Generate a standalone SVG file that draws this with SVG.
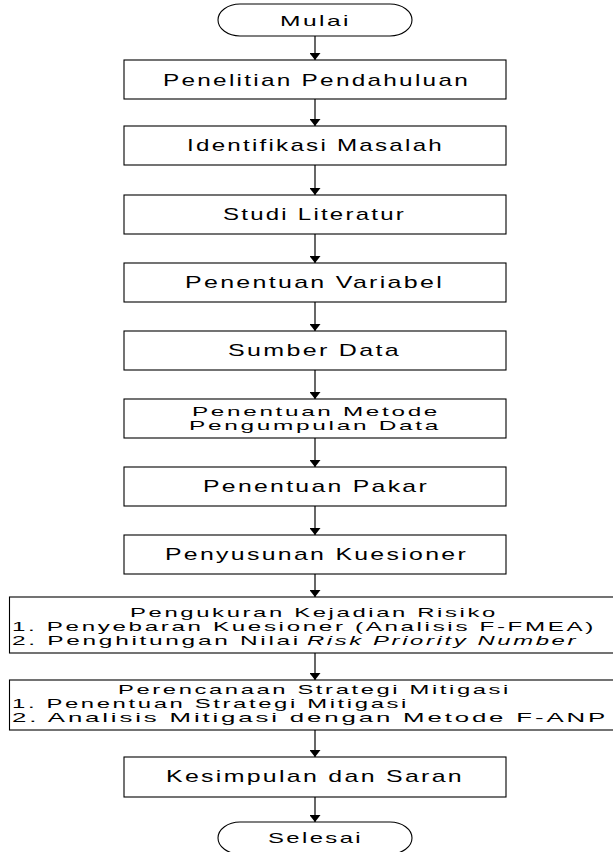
<svg xmlns="http://www.w3.org/2000/svg" width="613" height="852" viewBox="0 0 613 852">
<defs>
<style>
.box{fill:#fff;stroke:#000;stroke-width:1.1}
.t{font-family:"Liberation Sans",Arial,sans-serif;font-size:16.2px;fill:#000;letter-spacing:1.5px}
.s{font-size:13.6px}
.o{font-size:15px}
.c{text-anchor:middle}
.i{font-style:italic}
.conn line{stroke:#000;stroke-width:1.2;marker-end:url(#ah)}
</style>
<marker id="ah" markerUnits="userSpaceOnUse" markerWidth="7" markerHeight="11" refX="7" refY="5.5" orient="auto">
<path d="M0,0 L7,5.5 L0,11 z" fill="#000"/>
</marker>
</defs>
<rect width="613" height="852" fill="#fff"/>
<g id="connectors" class="conn">
<line x1="315" y1="36" x2="315" y2="60"/>
<line x1="315" y1="99" x2="315" y2="126"/>
<line x1="315" y1="165" x2="315" y2="195"/>
<line x1="315" y1="234" x2="315" y2="263"/>
<line x1="315" y1="302" x2="315" y2="331"/>
<line x1="315" y1="370" x2="315" y2="399"/>
<line x1="315" y1="438" x2="315" y2="467"/>
<line x1="315" y1="506" x2="315" y2="535"/>
<line x1="315" y1="574" x2="315" y2="597"/>
<line x1="315" y1="653" x2="315" y2="680"/>
<line x1="315" y1="730" x2="315" y2="757"/>
<line x1="315" y1="797" x2="315" y2="822"/>
</g>
<g id="mulai">
<rect class="box" x="218" y="4" width="194" height="32" rx="22" ry="16"/>
<text class="t o c" x="315.5" y="25.5" textLength="71" lengthAdjust="spacingAndGlyphs">Mulai</text>
</g>
<g id="penelitian">
<rect class="box" x="124" y="60" width="382" height="39"/>
<text class="t c" x="316.5" y="85.5" textLength="307" lengthAdjust="spacingAndGlyphs">Penelitian Pendahuluan</text>
</g>
<g id="identifikasi">
<rect class="box" x="124" y="126" width="382" height="39"/>
<text class="t c" x="315.5" y="151" textLength="257" lengthAdjust="spacingAndGlyphs">Identifikasi Masalah</text>
</g>
<g id="studi">
<rect class="box" x="124" y="195" width="382" height="39"/>
<text class="t c" x="314.5" y="220" textLength="183" lengthAdjust="spacingAndGlyphs">Studi Literatur</text>
</g>
<g id="variabel">
<rect class="box" x="124" y="263" width="382" height="39"/>
<text class="t c" x="314.5" y="288" textLength="259" lengthAdjust="spacingAndGlyphs">Penentuan Variabel</text>
</g>
<g id="sumber">
<rect class="box" x="124" y="331" width="382" height="39"/>
<text class="t c" x="314.5" y="356" textLength="173" lengthAdjust="spacingAndGlyphs">Sumber Data</text>
</g>
<g id="metode">
<rect class="box" x="124" y="399" width="382" height="39"/>
<text class="t s c" x="316" y="415.5" textLength="248" lengthAdjust="spacingAndGlyphs">Penentuan Metode</text>
<text class="t s c" x="315" y="429.5" textLength="252" lengthAdjust="spacingAndGlyphs">Pengumpulan Data</text>
</g>
<g id="pakar">
<rect class="box" x="124" y="467" width="382" height="39"/>
<text class="t c" x="316" y="491.5" textLength="226" lengthAdjust="spacingAndGlyphs">Penentuan Pakar</text>
</g>
<g id="kuesioner">
<rect class="box" x="124" y="535" width="382" height="39"/>
<text class="t c" x="316.5" y="559.5" textLength="303" lengthAdjust="spacingAndGlyphs">Penyusunan Kuesioner</text>
</g>
<g id="pengukuran">
<rect class="box" x="9.5" y="597" width="620" height="56"/>
<text class="t s c" x="314" y="616.5" textLength="368" lengthAdjust="spacingAndGlyphs">Pengukuran Kejadian Risiko</text>
<text class="t s" x="12" y="630.5" textLength="584" lengthAdjust="spacingAndGlyphs">1. Penyebaran Kuesioner (Analisis F-FMEA)</text>
<text class="t s" x="12" y="644.5" textLength="289" lengthAdjust="spacingAndGlyphs">2. Penghitungan Nilai</text>
<text class="t s i" x="307" y="644.5" textLength="271" lengthAdjust="spacingAndGlyphs">Risk Priority Number</text>
</g>
<g id="perencanaan">
<rect class="box" x="9.5" y="680" width="620" height="50"/>
<text class="t s c" x="314.5" y="694" textLength="393" lengthAdjust="spacingAndGlyphs">Perencanaan Strategi Mitigasi</text>
<text class="t s" x="12" y="708" textLength="397" lengthAdjust="spacingAndGlyphs">1. Penentuan Strategi Mitigasi</text>
<text class="t s" x="12" y="722" textLength="596" lengthAdjust="spacingAndGlyphs">2. Analisis Mitigasi dengan Metode F-ANP</text>
</g>
<g id="kesimpulan">
<rect class="box" x="124" y="757" width="382" height="40"/>
<text class="t c" x="315" y="782" textLength="298" lengthAdjust="spacingAndGlyphs">Kesimpulan dan Saran</text>
</g>
<g id="selesai">
<rect class="box" x="218" y="822" width="194" height="32" rx="22" ry="16"/>
<text class="t o c" x="315.5" y="842.5" textLength="95" lengthAdjust="spacingAndGlyphs">Selesai</text>
</g>
</svg>
